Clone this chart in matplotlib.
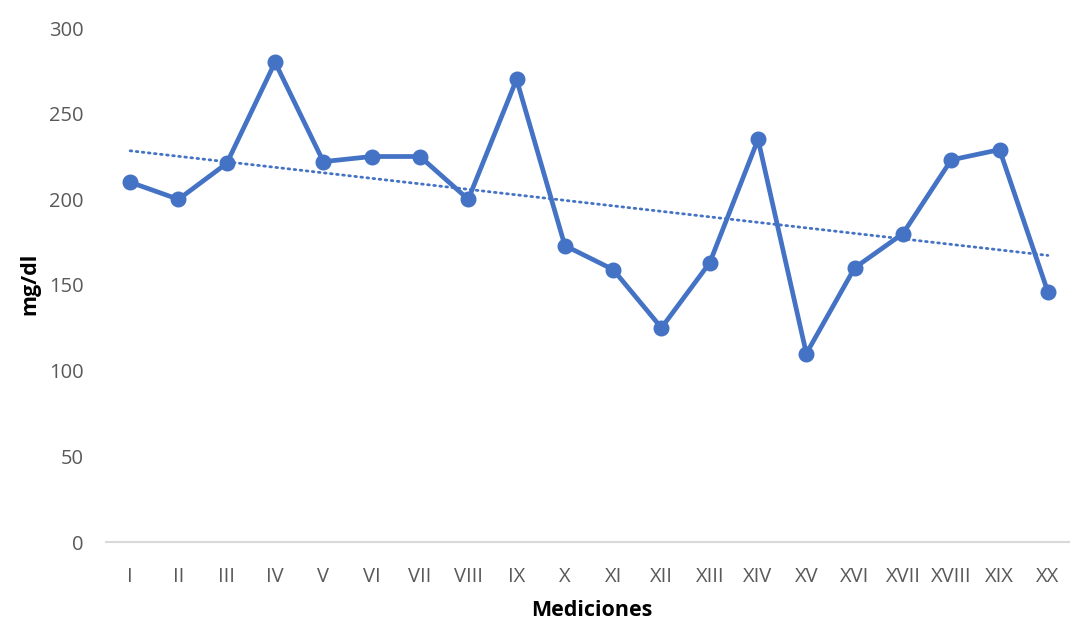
import matplotlib
matplotlib.use("Agg")
import matplotlib.pyplot as plt
import numpy as np

categories = ["I", "II", "III", "IV", "V", "VI", "VII", "VIII", "IX", "X",
              "XI", "XII", "XIII", "XIV", "XV", "XVI", "XVII", "XVIII", "XIX", "XX"]
values = [210, 200, 221, 280, 222, 225, 225, 200, 270, 173,
          159, 125, 163, 235, 110, 160, 180, 223, 229, 146]
yticks = [0, 50, 100, 150, 200, 250, 300]

plt.rcParams['font.family'] = ['Open Sans', 'DejaVu Sans']
gray = '#595959'
blue = '#4472C4'

fig = plt.figure(figsize=(10.7, 6.21), dpi=100)
ax = fig.add_axes([106/1070, 1-542/621, (1072-106)/1070, (542-28)/621])

x = np.arange(len(categories))
ax.plot(x, values, color=blue, lw=3.4, marker='o', markersize=10.5, zorder=3,
        solid_joinstyle='round')

# linear trend line
coef = np.polyfit(x, values, 1)
ax.plot(x, np.polyval(coef, x), color=blue, lw=2, linestyle=(0, (0.6, 1.6)),
        dash_capstyle='round', zorder=2)

ax.set_xlim(-0.5, len(categories) - 0.5)
ax.set_ylim(0, 300)
ax.set_yticks(yticks)
ax.set_xticks(x)
ax.set_xticklabels(categories)
for s in ['top', 'right', 'left']:
    ax.spines[s].set_visible(False)
ax.spines['bottom'].set_color('#d9d9d9')
ax.spines['bottom'].set_linewidth(1.5)
ax.tick_params(axis='both', length=0, labelsize=14.5, colors=gray)
ax.tick_params(axis='x', pad=18)
ax.tick_params(axis='y', pad=16)

fig.text(592/1070, 1-611/621, 'Mediciones', ha='center', va='center',
         fontsize=15.5, fontweight='bold', color='black')
fig.text(30/1070, 1-284/621, 'mg/dl', ha='center', va='center', rotation=90,
         fontsize=15.5, fontweight='bold', color='black')

fig.savefig('out.png', dpi=100)
